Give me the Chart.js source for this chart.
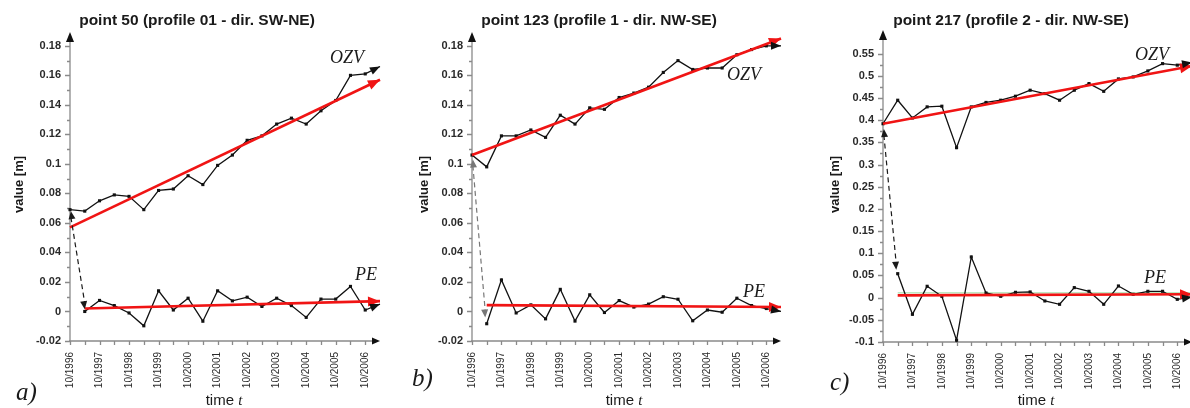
<!DOCTYPE html>
<html>
<head>
<meta charset="utf-8">
<title>OZV and PE time series</title>
<script src="https://cdn.jsdelivr.net/npm/chart.js@4.4.1/dist/chart.umd.min.js"></script>
<style>
  html, body { margin: 0; padding: 0; background: #ffffff; }
  body { position: relative; width: 1190px; height: 408px; overflow: hidden; }
  canvas { position: absolute; top: 0; }
</style>
</head>
<body>
<canvas id="panelA" width="395" height="408" style="left:0px"></canvas>
<canvas id="panelB" width="395" height="408" style="left:395px"></canvas>
<canvas id="panelC" width="412" height="408" style="left:790px"></canvas>
<script>
const SANS = '"Liberation Sans", Arial, sans-serif';
const SERIF = '"Liberation Serif", "Times New Roman", serif';
const RED = '#f01414';
const INK = '#111111';

// Epochs: years since 10/1996, one observation every half year
const halfYears = [0, 0.5, 1, 1.5, 2, 2.5, 3, 3.5, 4, 4.5, 5, 5.5, 6, 6.5, 7, 7.5, 8, 8.5, 9, 9.5, 10, 10.5];
const peYears = halfYears.slice(1);
const yearTicks = [0, 1, 2, 3, 4, 5, 6, 7, 8, 9, 10];
const tickLabels = ['10/1996', '10/1997', '10/1998', '10/1999', '10/2000', '10/2001',
                    '10/2002', '10/2003', '10/2004', '10/2005', '10/2006'];

// Value axis ticks
const yTicksAB = [-0.02, 0, 0.02, 0.04, 0.06, 0.08, 0.1, 0.12, 0.14, 0.16, 0.18];
const yTickLabelsAB = ['-0.02', '0', '0.02', '0.04', '0.06', '0.08', '0.1', '0.12', '0.14', '0.16', '0.18'];
const yTicksC = [-0.1, -0.05, 0, 0.05, 0.1, 0.15, 0.2, 0.25, 0.3, 0.35, 0.4, 0.45, 0.5, 0.55];
const yTickLabelsC = ['-0.1', '-0.05', '0', '0.05', '0.1', '0.15', '0.2', '0.25', '0.3', '0.35', '0.4', '0.45', '0.5', '0.55'];

// Trend line spans (years)
const ozvSpan = [0, 10.5];
const peSpan = [0.5, 10.5];

// point 50 (profile 01)
const ozvA = [0.069, 0.068, 0.075, 0.079, 0.078, 0.069, 0.082, 0.083, 0.092, 0.086, 0.099,
              0.106, 0.116, 0.119, 0.127, 0.131, 0.127, 0.136, 0.143, 0.160, 0.161, 0.166];
const peA = [0.000, 0.0075, 0.004, -0.001, -0.0097, 0.014, 0.001, 0.009, -0.0066, 0.014, 0.0072,
             0.0097, 0.0034, 0.009, 0.004, -0.004, 0.0084, 0.0084, 0.017, 0.001, 0.005];
const ozvTrendA = [0.057, 0.157];
const peTrendA = [0.002, 0.007];
const linkA = [[0.03, 0.068], [0.5, 0.0015]];

// point 123 (profile 1)
const ozvB = [0.106, 0.098, 0.119, 0.119, 0.123, 0.118, 0.133, 0.127, 0.138, 0.137, 0.145,
              0.148, 0.152, 0.162, 0.170, 0.164, 0.165, 0.165, 0.174, 0.1775, 0.180, 0.180];
const peB = [-0.0083, 0.0214, -0.001, 0.0045, -0.005, 0.015, -0.0065, 0.0113, -0.0007, 0.0074, 0.003,
             0.005, 0.010, 0.0083, -0.0063, 0.001, -0.0005, 0.009, 0.004, 0.002, 0.000];
const ozvTrendB = [0.106, 0.185];
const peTrendB = [0.0043, 0.003];
const linkB = [[0.03, 0.103], [0.45, -0.004]];

// point 217 (profile 2)
const ozvC = [0.392, 0.445, 0.405, 0.430, 0.4315, 0.338, 0.430, 0.440, 0.445, 0.454, 0.4675,
              0.460, 0.445, 0.4675, 0.4825, 0.465, 0.493, 0.4975, 0.511, 0.5275, 0.524, 0.530];
const peC = [0.054, -0.0376, 0.0256, 0.003, -0.096, 0.0917, 0.0105, 0.003, 0.012, 0.0128, -0.0075,
             -0.015, 0.0226, 0.0143, -0.015, 0.0263, 0.0075, 0.0143, 0.0143, -0.0038, 0.0015];
const ozvTrendC = [0.392, 0.522];
const peTrendC = [0.005, 0.0075];
const peLevelC = [0.011, 0.011];
const linkC = [[0.03, 0.38], [0.45, 0.063]];

const panels = [
  {
    id: 'panelA', title: 'point 50 (profile 01 - dir. SW-NE)', letter: 'a)',
    ozv: ozvA, pe: peA, ozvTrend: ozvTrendA, peTrend: peTrendA, link: linkA, linkColor: '#1a1a1a',
    yMin: -0.02, yMax: 0.186, yTicks: yTicksAB, yTickLabels: yTickLabelsAB, yMinorStep: 0.01,
    frame: { yAxisWidth: 70, padTop: 37, padRight: 15, xAxisHeight: 67 },
    text: { titleX: 197, yTitleX: 19, xTitleX: 224, letterX: 16, letterY: 400,
            ozvX: 347, ozvY: 63, peX: 366, peY: 280 }
  },
  {
    id: 'panelB', title: 'point 123 (profile 1 - dir. NW-SE)', letter: 'b)',
    ozv: ozvB, pe: peB, ozvTrend: ozvTrendB, peTrend: peTrendB, link: linkB, linkColor: '#777777',
    yMin: -0.02, yMax: 0.186, yTicks: yTicksAB, yTickLabels: yTickLabelsAB, yMinorStep: 0.01,
    frame: { yAxisWidth: 77, padTop: 37, padRight: 9, xAxisHeight: 67 },
    text: { titleX: 204, yTitleX: 29, xTitleX: 229, letterX: 17, letterY: 386,
            ozvX: 349, ozvY: 80, peX: 359, peY: 297 }
  },
  {
    id: 'panelC', title: 'point 217 (profile 2 - dir. NW-SE)', letter: 'c)',
    ozv: ozvC, pe: peC, ozvTrend: ozvTrendC, peTrend: peTrendC, level: peLevelC, link: linkC, linkColor: '#1a1a1a',
    yMin: -0.1, yMax: 0.592, yTicks: yTicksC, yTickLabels: yTickLabelsC, yMinorStep: 0.025,
    frame: { yAxisWidth: 93, padTop: 35, padRight: 10, xAxisHeight: 66 },
    text: { titleX: 221, yTitleX: 45, xTitleX: 246, letterX: 40, letterY: 390,
            ozvX: 362, ozvY: 60, peX: 365, peY: 283 }
  }
];

function arrowHead(ctx, x0, y0, x1, y1, len, half, color) {
  const ang = Math.atan2(y1 - y0, x1 - x0);
  ctx.save();
  ctx.translate(x1, y1);
  ctx.rotate(ang);
  ctx.beginPath();
  ctx.moveTo(0, 0);
  ctx.lineTo(-len, -half);
  ctx.lineTo(-len, half);
  ctx.closePath();
  ctx.fillStyle = color;
  ctx.fill();
  ctx.restore();
}

// Axes with arrows, minor ticks, series arrowheads, the dashed link and all captions
const frameAndNotes = {
  id: 'frameAndNotes',
  beforeDatasetsDraw(chart, args, o) {
    const { ctx, chartArea: a } = chart;
    const x = chart.scales.x, y = chart.scales.y;
    ctx.save();
    ctx.strokeStyle = '#8a8a8a';
    ctx.lineWidth = 1.3;
    ctx.beginPath();
    ctx.moveTo(a.left, a.bottom + 1);
    ctx.lineTo(a.left, a.top);
    ctx.moveTo(a.left - 1, a.bottom);
    ctx.lineTo(a.right - 4, a.bottom);
    // value-axis ticks: long at labelled values, short in between
    const first = o.yTicks[0], last = o.yTicks[o.yTicks.length - 1];
    const n = Math.round((last - first) / o.yMinorStep);
    for (let i = 0; i <= n; i++) {
      const py = Math.round(y.getPixelForValue(first + i * o.yMinorStep)) + 0.5;
      const len = i % 2 === 0 ? 5 : 3;
      ctx.moveTo(a.left - len, py);
      ctx.lineTo(a.left, py);
    }
    // time-axis ticks every half year
    halfYears.forEach(t => {
      if (t > 10) return;
      const px = Math.round(x.getPixelForValue(t)) + 0.5;
      ctx.moveTo(px, a.bottom);
      ctx.lineTo(px, a.bottom + 4);
    });
    ctx.stroke();
    arrowHead(ctx, a.left, a.top + 6, a.left, a.top - 5, 10, 4, INK);
    arrowHead(ctx, a.right - 8, a.bottom, a.right, a.bottom, 8, 3.5, INK);
    ctx.restore();
  },
  afterDatasetsDraw(chart, args, o) {
    const { ctx } = chart;
    const x = chart.scales.x, y = chart.scales.y;
    // arrowheads at the end of each series
    chart.data.datasets.forEach((ds, i) => {
      if (!o.arrowed.includes(ds.label)) return;
      const pts = chart.getDatasetMeta(i).data;
      const p1 = pts[pts.length - 1], p0 = pts[pts.length - 2];
      const big = ds.borderColor === RED;
      arrowHead(ctx, p0.x, p0.y, p1.x, p1.y, big ? 12 : 10, big ? 5 : 4, ds.borderColor);
    });
    // dashed double arrow from the OZV start to the PE start
    const sx = x.getPixelForValue(o.link[0][0]), sy = y.getPixelForValue(o.link[0][1]);
    const ex = x.getPixelForValue(o.link[1][0]), ey = y.getPixelForValue(o.link[1][1]);
    ctx.save();
    ctx.strokeStyle = o.linkColor;
    ctx.lineWidth = 1.2;
    ctx.setLineDash([5, 3.5]);
    ctx.beginPath();
    ctx.moveTo(sx, sy + 6);
    ctx.lineTo(ex, ey - 6);
    ctx.stroke();
    ctx.setLineDash([]);
    arrowHead(ctx, ex, ey, sx, sy, 8, 3.5, o.linkColor);
    arrowHead(ctx, sx, sy, ex, ey, 8, 3.5, o.linkColor);
    ctx.restore();
  },
  afterDraw(chart, args, o) {
    const { ctx } = chart;
    const t = o.text;
    const midY = 184.5;
    ctx.save();
    ctx.fillStyle = '#1a1a1a';
    // panel title
    ctx.font = `bold 15.5px ${SANS}`;
    ctx.textAlign = 'center';
    ctx.textBaseline = 'alphabetic';
    ctx.fillText(o.title, t.titleX, 24.5);
    // value axis title
    ctx.save();
    ctx.translate(t.yTitleX, midY);
    ctx.rotate(-Math.PI / 2);
    ctx.font = `bold 13px ${SANS}`;
    ctx.textBaseline = 'middle';
    ctx.fillText('value [m]', 0, 0);
    ctx.restore();
    // time axis title with italic symbol
    ctx.font = `15px ${SANS}`;
    const w1 = ctx.measureText('time ').width;
    ctx.font = `italic 15px ${SERIF}`;
    const w2 = ctx.measureText('t').width;
    const x0 = t.xTitleX - (w1 + w2) / 2;
    ctx.textAlign = 'left';
    ctx.font = `15px ${SANS}`;
    ctx.fillText('time ', x0, 405);
    ctx.font = `italic 15px ${SERIF}`;
    ctx.fillText('t', x0 + w1, 405);
    // panel letter
    ctx.font = `italic 25px ${SERIF}`;
    ctx.fillText(o.letter, t.letterX, t.letterY);
    // series names
    ctx.textAlign = 'center';
    ctx.font = `italic 18px ${SERIF}`;
    ctx.fillText('OZV', t.ozvX, t.ozvY);
    ctx.fillText('PE', t.peX, t.peY);
    ctx.restore();
  }
};

function points(xs, ys) {
  return ys.map((v, i) => ({ x: xs[i], y: v }));
}

function buildChart(p) {
  const datasets = [
    { label: 'OZV trend', data: points(ozvSpan, p.ozvTrend), borderColor: RED, borderWidth: 2.6, pointRadius: 0, order: 0 },
    { label: 'PE trend', data: points(peSpan, p.peTrend), borderColor: RED, borderWidth: 2.6, pointRadius: 0, order: 1 },
    { label: 'OZV', data: points(halfYears, p.ozv), borderColor: INK, borderWidth: 1.3,
      pointStyle: 'rect', pointRadius: ctx => ctx.dataIndex === p.ozv.length - 1 ? 0 : 2.2,
      pointBackgroundColor: INK, pointBorderWidth: 0, order: 2 },
    { label: 'PE', data: points(peYears, p.pe), borderColor: INK, borderWidth: 1.3,
      pointStyle: 'rect', pointRadius: ctx => ctx.dataIndex === p.pe.length - 1 ? 0 : 2.2,
      pointBackgroundColor: INK, pointBorderWidth: 0, order: 3 }
  ];
  if (p.level) {
    datasets.push({ label: 'PE level', data: points(peSpan, p.level), borderColor: '#bfe8c2',
                    borderWidth: 1.6, pointRadius: 0, order: 4 });
  }
  datasets.forEach(d => { d.tension = 0; d.clip = false; d.fill = false; });

  return new Chart(document.getElementById(p.id), {
    type: 'line',
    data: { datasets },
    options: {
      responsive: false,
      animation: false,
      events: [],
      layout: { padding: { top: p.frame.padTop, right: p.frame.padRight, left: 0, bottom: 0 } },
      scales: {
        x: {
          type: 'linear', min: 0, max: 10.5, bounds: 'data',
          afterBuildTicks: s => { s.ticks = yearTicks.map(v => ({ value: v })); },
          afterFit: s => { s.height = p.frame.xAxisHeight; s.paddingLeft = 0; s.paddingRight = 0; },
          ticks: {
            autoSkip: false, minRotation: 90, maxRotation: 90, padding: 11,
            color: '#2a2a2a', font: { family: SANS, size: 10 },
            callback: (v, i) => tickLabels[i]
          },
          grid: { display: false, drawTicks: false },
          border: { display: false }
        },
        y: {
          type: 'linear', min: p.yMin, max: p.yMax, bounds: 'data',
          afterBuildTicks: s => { s.ticks = p.yTicks.map(v => ({ value: v })); },
          afterFit: s => { s.width = p.frame.yAxisWidth; s.paddingTop = 0; s.paddingBottom = 0; },
          ticks: {
            padding: 9, color: '#2a2a2a', font: { family: SANS, size: 11, weight: 'bold' },
            callback: (v, i) => p.yTickLabels[i]
          },
          grid: { display: false, drawTicks: false },
          border: { display: false }
        }
      },
      plugins: {
        legend: { display: false },
        tooltip: { enabled: false },
        title: { display: false },
        frameAndNotes: {
          title: p.title, letter: p.letter, text: p.text,
          yTicks: p.yTicks, yMinorStep: p.yMinorStep,
          link: p.link, linkColor: p.linkColor,
          arrowed: ['OZV trend', 'PE trend', 'OZV', 'PE']
        }
      }
    },
    plugins: [frameAndNotes]
  });
}

panels.forEach(buildChart);
</script>
</body>
</html>
